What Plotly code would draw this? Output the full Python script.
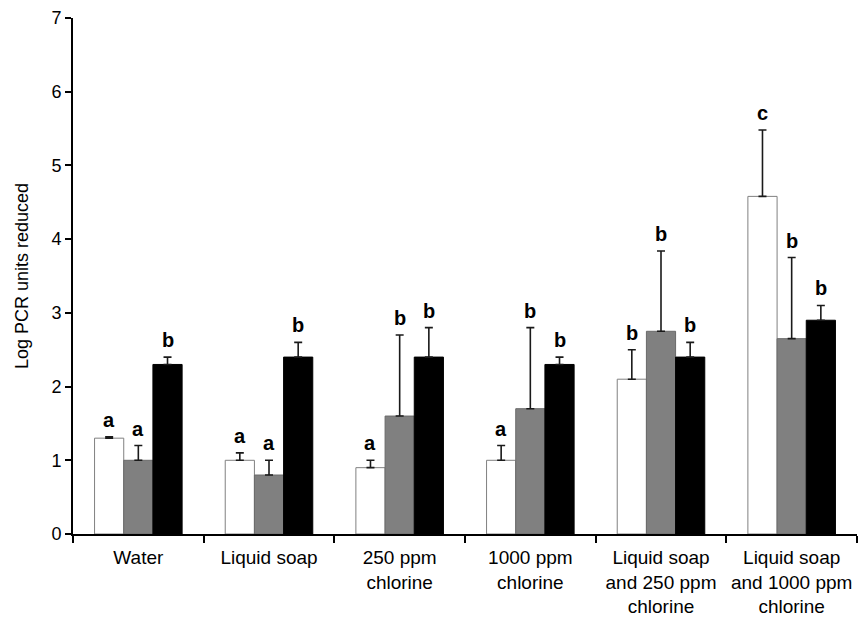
import plotly.graph_objects as go

categories = ["Water", "Liquid soap", "250 ppm<br>chlorine", "1000 ppm<br>chlorine",
              "Liquid soap<br>and 250 ppm<br>chlorine", "Liquid soap<br>and 1000 ppm<br>chlorine"]

white_vals = [1.3, 1.0, 0.9, 1.0, 2.1, 4.58]
white_err = [0.02, 0.1, 0.1, 0.2, 0.4, 0.9]
gray_vals = [1.0, 0.8, 1.6, 1.7, 2.75, 2.65]
gray_err = [0.2, 0.2, 1.1, 1.1, 1.09, 1.1]
black_vals = [2.3, 2.4, 2.4, 2.3, 2.4, 2.9]
black_err = [0.1, 0.2, 0.4, 0.1, 0.2, 0.2]

white_letters = ["a", "a", "a", "a", "b", "c"]
gray_letters = ["a", "a", "b", "b", "b", "b"]
black_letters = ["b", "b", "b", "b", "b", "b"]

W, H = 860, 618
ML, MR, MT, MB = 73, 3, 18, 84
BARGAP = 0.33
FONT = "Liberation Sans, Arial, sans-serif"

series = [
    (white_vals, white_err, white_letters, "#ffffff", "#808080"),
    (gray_vals, gray_err, gray_letters, "#808080", "#6a6a6a"),
    (black_vals, black_err, black_letters, "#000000", "#000000"),
]

fig = go.Figure()
for vals, errs, _, fill, edge in series:
    fig.add_trace(go.Bar(
        x=categories, y=vals,
        marker=dict(color=fill, line=dict(color=edge, width=1)),
        error_y=dict(type="data", array=errs, arrayminus=[0] * len(errs),
                     symmetric=False, color="#1a1a1a", thickness=1.6, width=4),
        showlegend=False,
    ))

cat_px = (W - ML - MR) / len(categories)
bar_px = cat_px * (1 - BARGAP) / len(series)
annotations = []
for k, (vals, errs, letters, _, _) in enumerate(series):
    shift = (k - (len(series) - 1) / 2) * bar_px
    for cat, v, e, lab in zip(categories, vals, errs, letters):
        annotations.append(dict(
            x=cat, y=v + e, xref="x", yref="y", text="<b>%s</b>" % lab,
            showarrow=False, xanchor="center", yanchor="bottom",
            xshift=shift, yshift=4,
            font=dict(family=FONT, size=20, color="#000000"),
        ))

fig.update_layout(
    width=W, height=H,
    margin=dict(l=ML, r=MR, t=MT, b=MB, pad=0),
    paper_bgcolor="white", plot_bgcolor="white",
    barmode="group", bargap=BARGAP, bargroupgap=0,
    font=dict(family=FONT, size=18, color="#000000"),
    annotations=annotations,
    xaxis=dict(
        type="category", showline=True, linecolor="#000000", linewidth=2,
        ticks="outside", tickson="boundaries", ticklen=7, tickwidth=1.5,
        tickcolor="#000000", showgrid=False, zeroline=False,
        tickangle=0, automargin=False, ticklabelstandoff=5,
        tickfont=dict(family=FONT, size=19, color="#000000"),
    ),
    yaxis=dict(
        range=[0, 7], dtick=1, tick0=0, showline=True, linecolor="#000000",
        linewidth=2, ticks="outside", ticklen=6, tickwidth=1.5,
        tickcolor="#000000", showgrid=False, zeroline=False, automargin=False,
        tickfont=dict(family=FONT, size=18, color="#000000"),
        title=dict(text="Log PCR units reduced", standoff=18,
                   font=dict(family=FONT, size=18, color="#000000")),
    ),
)

fig.write_html("out.html")
